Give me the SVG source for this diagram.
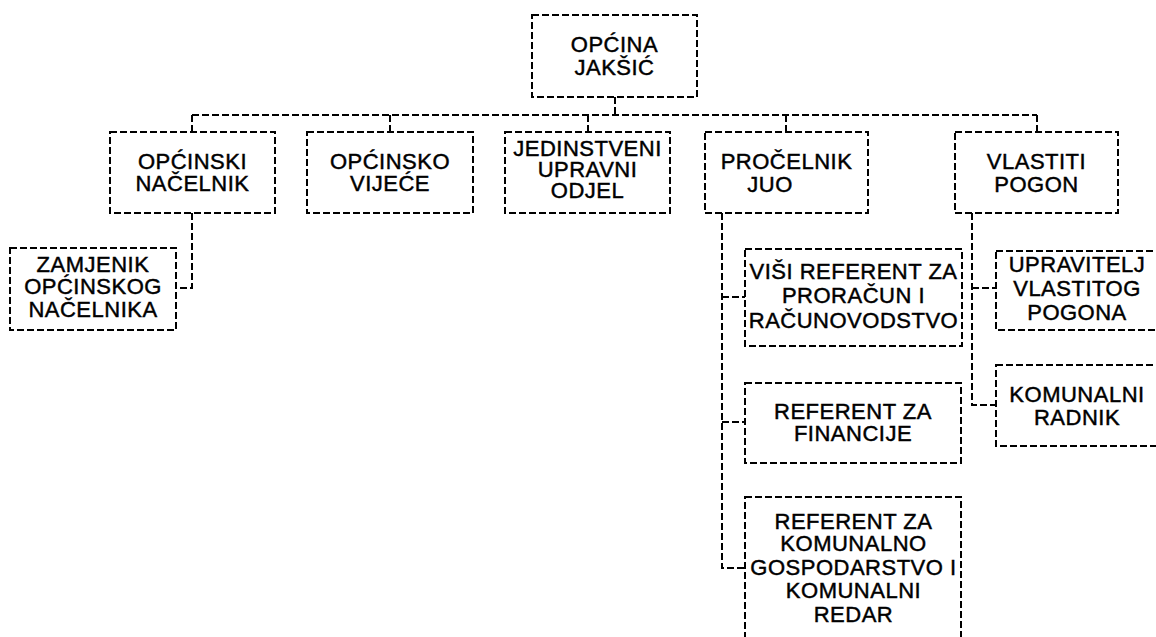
<svg xmlns="http://www.w3.org/2000/svg" width="1156" height="637" viewBox="0 0 1156 637">
<style>
.box{fill:#fff;stroke:#000;stroke-width:2;stroke-dasharray:7,3}
.con{fill:none;stroke:#000;stroke-width:2;stroke-dasharray:7,3}
text{font-family:"Liberation Sans",Arial,sans-serif;font-size:22px;letter-spacing:0.5px;fill:#000;stroke:#000;stroke-width:0.45px;text-anchor:middle}
</style>
<rect width="1156" height="637" fill="#fff"/>
<g id="connectors">
<path class="con" d="M615,97 V115"/>
<path class="con" d="M192,115 H1037"/>
<path class="con" d="M192,115 V132 M390,115 V132 M588,115 V132 M786,115 V132 M1037,115 V132"/>
<path class="con" d="M192,213 V288 H176"/>
<path class="con" d="M722,213 V568 H745 M722,297 H745 M722,422 H745"/>
<path class="con" d="M972,213 V405 H996 M972,288 H996"/>
</g>
<g id="n-opcina">
<rect class="box" x="532" y="15" width="165" height="82"/>
<text x="614.5" y="52">OPĆINA</text>
<text x="614.5" y="74.5">JAKŠIĆ</text>
</g>
<g id="n-nacelnik">
<rect class="box" x="110" y="132" width="165" height="81"/>
<text x="192.5" y="169">OPĆINSKI</text>
<text x="192.5" y="191">NAČELNIK</text>
</g>
<g id="n-zamjenik">
<rect class="box" x="10" y="248" width="166" height="82"/>
<text x="93" y="272">ZAMJENIK</text>
<text x="93" y="294">OPĆINSKOG</text>
<text x="93" y="316.5">NAČELNIKA</text>
</g>
<g id="n-vijece">
<rect class="box" x="307" y="132" width="166" height="81"/>
<text x="390" y="168.5">OPĆINSKO</text>
<text x="390" y="191">VIJEĆE</text>
</g>
<g id="n-juo">
<rect class="box" x="505" y="132" width="165" height="81"/>
<text x="587.5" y="156">JEDINSTVENI</text>
<text x="587.5" y="177">UPRAVNI</text>
<text x="587.5" y="198">ODJEL</text>
</g>
<g id="n-procelnik">
<rect class="box" x="705" y="132" width="163" height="81"/>
<text x="786.5" y="168.5">PROČELNIK</text>
<text x="770" y="191.5">JUO</text>
</g>
<g id="n-pogon">
<rect class="box" x="955" y="132" width="163" height="81"/>
<text x="1036.5" y="168.5">VLASTITI</text>
<text x="1036.5" y="191.5">POGON</text>
</g>
<g id="n-visi">
<rect class="box" x="745" y="249" width="217" height="97"/>
<text x="853.5" y="278.5">VIŠI REFERENT ZA</text>
<text x="853.5" y="303">PRORAČUN I</text>
<text x="853.5" y="327.5">RAČUNOVODSTVO</text>
</g>
<g id="n-financije">
<rect class="box" x="745" y="383" width="216" height="80"/>
<text x="853" y="418.5">REFERENT ZA</text>
<text x="853" y="440.5">FINANCIJE</text>
</g>
<g id="n-komunalno">
<rect class="box" x="745" y="497" width="216" height="170"/>
<text x="853.5" y="528.5">REFERENT ZA</text>
<text x="853.5" y="551">KOMUNALNO</text>
<text x="853.5" y="574.5">GOSPODARSTVO I</text>
<text x="853.5" y="598">KOMUNALNI</text>
<text x="853.5" y="621.5">REDAR</text>
</g>
<g id="n-upravitelj">
<rect class="box" x="996" y="251" width="165" height="79"/>
<text x="1077" y="272">UPRAVITELJ</text>
<text x="1077" y="296">VLASTITOG</text>
<text x="1077" y="319.5">POGONA</text>
</g>
<g id="n-radnik">
<rect class="box" x="996" y="365" width="165" height="81"/>
<text x="1077" y="402">KOMUNALNI</text>
<text x="1077" y="425">RADNIK</text>
</g>
</svg>
